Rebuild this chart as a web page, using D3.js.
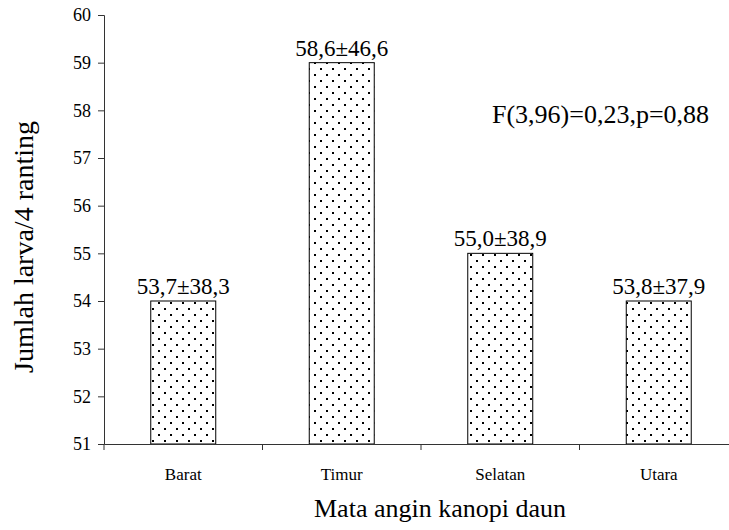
<!DOCTYPE html>
<html>
<head>
<meta charset="utf-8">
<script src="https://cdn.jsdelivr.net/npm/d3@7"></script>
</head>
<body style="margin:0">
<svg id="chart" width="729" height="530" font-family="Liberation Serif, Times New Roman, Times, serif"></svg>
<script>
// data
const categories = ['Barat', 'Timur', 'Selatan', 'Utara'];
const means = [53.7, 58.6, 55.0, 53.8];
const sds = [38.3, 46.6, 38.9, 37.9];
const yTicks = [51, 52, 53, 54, 55, 56, 57, 58, 59, 60];
const statText = 'F(3,96)=0,23,p=0,88';

const W = 729, H = 530;
const FONT = 'Liberation Serif';
const margin = {top: 15, right: -9, bottom: 86, left: 104};

const svg = d3.select('#chart');

const x = d3.scaleBand()
    .domain(categories)
    .range([margin.left, W - margin.right])
    .paddingInner(0.59)
    .paddingOuter(0.295);

const y = d3.scaleLinear()
    .domain([51, 60])
    .range([H - margin.bottom, margin.top]);

// titles first
svg.append('text')
    .attr('x', 440)
    .attr('y', 517)
    .attr('text-anchor', 'middle')
    .style('font-family', FONT)
    .style('font-size', '26px')
    .text('Mata angin kanopi daun');

svg.append('text')
    .attr('transform', 'translate(33,247) rotate(-90)')
    .attr('text-anchor', 'middle')
    .style('font-family', FONT)
    .style('font-size', '28px')
    .text('Jumlah larva/4 ranting');

svg.append('text')
    .attr('x', 492)
    .attr('y', 123)
    .style('font-family', FONT)
    .style('font-size', '26px')
    .text(statText);

// dotted fill
const pat = svg.append('defs').append('pattern')
    .attr('id', 'dots')
    .attr('patternUnits', 'userSpaceOnUse')
    .attr('width', 12)
    .attr('height', 12);
pat.append('rect').attr('width', 12).attr('height', 12).attr('fill', '#fff');
pat.append('rect').attr('x', 2).attr('y', 2).attr('width', 2).attr('height', 2).attr('fill', '#000');
pat.append('rect').attr('x', 8).attr('y', 8).attr('width', 2).attr('height', 2).attr('fill', '#000');

// bars (plotted at rounded means, as in the original)
svg.selectAll('.bar')
    .data(categories)
  .enter().append('rect')
    .attr('class', 'bar')
    .attr('x', d => x(d))
    .attr('y', (d, i) => y(Math.round(means[i])))
    .attr('width', x.bandwidth())
    .attr('height', (d, i) => y(51) - y(Math.round(means[i])))
    .attr('fill', 'url(#dots)')
    .attr('stroke', '#000')
    .attr('stroke-width', 1);

// value labels
svg.selectAll('.val')
    .data(categories)
  .enter().append('text')
    .attr('class', 'val')
    .attr('x', d => x(d) + x.bandwidth() / 2)
    .attr('y', (d, i) => y(Math.round(means[i])) - 7)
    .attr('text-anchor', 'middle')
    .style('font-family', FONT)
    .style('font-size', '23px')
    .text((d, i) => means[i].toFixed(1).replace('.', ',') + '±' + sds[i].toFixed(1).replace('.', ','));

// y axis
const axisY = svg.append('g')
    .attr('transform', `translate(${margin.left},0)`)
    .call(d3.axisLeft(y).tickValues(yTicks).tickFormat(d3.format('d')).tickSize(6).tickPadding(7))
    .attr('font-family', null);
axisY.selectAll('text')
    .style('font-family', FONT)
    .style('font-size', '18px')
    .attr('fill', '#000');
axisY.selectAll('line, path').attr('stroke', '#333');

// x axis: labels at centres, ticks at band borders
const axisX = svg.append('g')
    .attr('transform', `translate(0,${y(51)})`)
    .call(d3.axisBottom(x).tickSize(0).tickPadding(24))
    .attr('font-family', null);
axisX.select('.domain').attr('stroke', '#333');
axisX.selectAll('text')
    .style('font-family', FONT)
    .style('font-size', '17px')
    .attr('fill', '#000');

const pad = (x.step() - x.bandwidth()) / 2;
axisX.selectAll('.border')
    .data(categories)
  .enter().append('line')
    .attr('class', 'border')
    .attr('x1', d => x(d) - pad)
    .attr('x2', d => x(d) - pad)
    .attr('y1', 0)
    .attr('y2', 6)
    .attr('stroke', '#333');
</script>
</body>
</html>
